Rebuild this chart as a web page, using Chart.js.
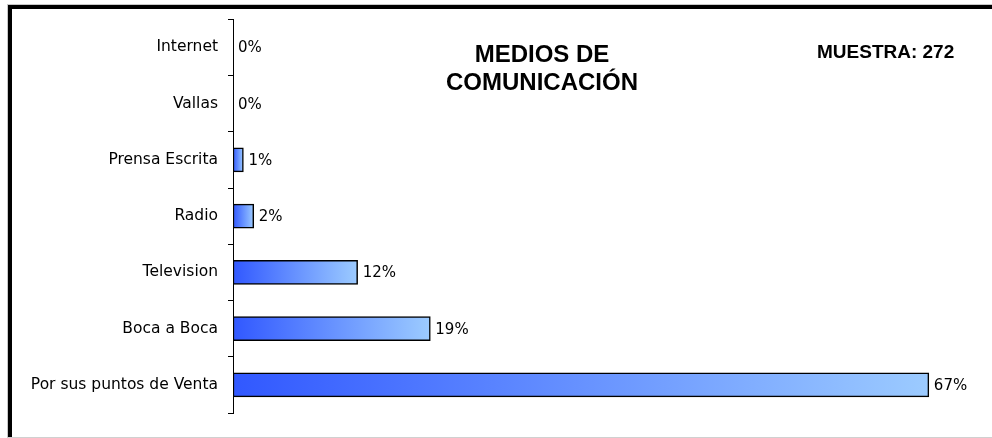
<!DOCTYPE html>
<html>
<head>
<meta charset="utf-8">
<script src="https://cdn.jsdelivr.net/npm/chart.js@4.4.0/dist/chart.umd.min.js"></script>
<style>
  body { margin: 0; background: #fff; }
  #wrap { position: relative; width: 992px; height: 438px; overflow: hidden; }
  #frame { position: absolute; left: 7px; top: 4px; width: 1000px; height: 432px;
           border-left: 1px solid #c8c8c8; border-top: 1px solid #c8c8c8; border-bottom: 1px solid #d0d0d0; }
  #frameTop { position: absolute; left: 8px; top: 5px; width: 990px; height: 4px; background: #000; }
  #frameLeft { position: absolute; left: 8px; top: 5px; width: 4px; height: 432px; background: #000; }
  #titulo { position: absolute; left: 392px; top: 40px; width: 300px; text-align: center;
            font: bold 24px "Liberation Sans", Arial, sans-serif; line-height: 28px; color: #000; }
  #muestra { position: absolute; left: 817px; top: 41px;
             font: bold 19px "Liberation Sans", Arial, sans-serif; color: #000; }
  canvas { position: absolute; left: 0; top: 0; }
</style>
</head>
<body>
<div id="wrap">
  <canvas id="popChart" width="992" height="438"></canvas>
  <div id="frame"></div>
  <div id="frameTop"></div>
  <div id="frameLeft"></div>
  <div id="titulo">MEDIOS DE<br>COMUNICACIÓN</div>
  <div id="muestra">MUESTRA: 272</div>
</div>
<script>
/* MEDIOS DE COMUNICACION */
var medios = ['Internet', 'Vallas', 'Prensa Escrita', 'Radio', 'Television', 'Boca a Boca', 'Por sus puntos de Venta'];
var porcentajes = [0, 0, 1, 2, 12, 19, 67];

// etiquetas de valor a la derecha de cada barra
var etiquetas = {
  id: 'etiquetas',
  afterDatasetsDraw: function(chart) {
    var ctx = chart.ctx;
    var meta = chart.getDatasetMeta(0);
    ctx.save();
    ctx.font = '15px "DejaVu Sans", sans-serif';
    ctx.fillStyle = '#000';
    ctx.textBaseline = 'middle';
    meta.data.forEach(function(bar, i) {
      ctx.fillText(porcentajes[i] + '%', bar.x + 5, bar.y + 1);
    });
    ctx.restore();
  }
};

var popCanvas = document.getElementById('popChart').getContext('2d');

var barChart = new Chart(popCanvas, {
  type: 'bar',
  data: {
    labels: medios,
    datasets: [{
      data: porcentajes,
      barThickness: 24,
      borderWidth: 1.5,
      borderColor: '#000',
      borderSkipped: false,
      backgroundColor: function(context) {
        var chart = context.chart;
        var x = chart.scales.x;
        if (!chart.chartArea || !x) return '#6699ff';
        var x0 = x.getPixelForValue(0);
        var x1 = x.getPixelForValue(context.raw);
        if (x1 - x0 < 2) x1 = x0 + 2;
        var g = chart.ctx.createLinearGradient(x0, 0, x1, 0);
        g.addColorStop(0, '#3158ff');
        g.addColorStop(1, '#9ccbff');
        return g;
      }
    }]
  },
  options: {
    indexAxis: 'y',
    responsive: false,
    animation: false,
    layout: {
      padding: { top: 17, bottom: 25, right: 32, left: 0 }
    },
    scales: {
      x: {
        display: false,
        min: 0,
        max: 70
      },
      y: {
        afterFit: function(scale) { scale.width = 233; },
        border: { display: true, color: '#000', width: 1 },
        grid: {
          offset: true,
          drawOnChartArea: false,
          tickLength: 5,
          color: '#000'
        },
        ticks: {
          color: '#000',
          padding: 10,
          font: { family: '"DejaVu Sans", sans-serif', size: 15.5 }
        }
      }
    },
    plugins: {
      legend: { display: false },
      tooltip: { enabled: false }
    }
  },
  plugins: [etiquetas]
});
</script>
</body>
</html>
